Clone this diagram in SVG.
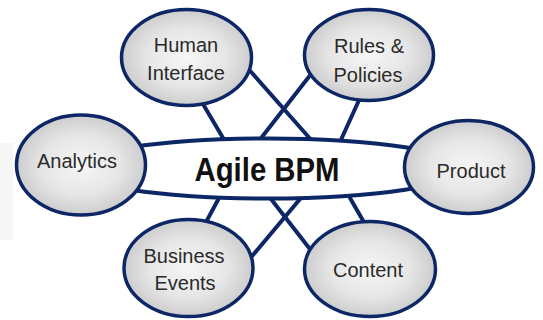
<svg xmlns="http://www.w3.org/2000/svg" width="543" height="320" viewBox="0 0 543 320">
  <defs>
    <radialGradient id="bubble" cx="50%" cy="50%" r="50%">
      <stop offset="0" stop-color="#f6f6f6"/>
      <stop offset="0.6" stop-color="#e6e6e6"/>
      <stop offset="1" stop-color="#cdcdcd"/>
    </radialGradient>
  </defs>
  <style>
    .node ellipse { fill: url(#bubble); stroke: #0c2666; stroke-width: 3.5; }
    .hub ellipse { fill: #ffffff; stroke: #0c2666; stroke-width: 4; }
    .links line { stroke: #0c2666; stroke-width: 4; stroke-linecap: round; }
    text { font-family: "Liberation Sans", Arial, sans-serif; fill: #2a2a2a; text-anchor: middle; }
    .label { font-size: 20px; }
    .title { font-size: 33px; font-weight: bold; fill: #111111; }
  </style>

  <rect x="0" y="143" width="13" height="97" fill="#f6f6f6"/>

  <g id="connectors" class="links">
    <line x1="200" y1="99" x2="226" y2="143"/>
    <line x1="245" y1="65" x2="313" y2="142"/>
    <line x1="315" y1="69" x2="258" y2="142"/>
    <line x1="360" y1="98" x2="340" y2="142"/>
    <line x1="219" y1="198" x2="205" y2="224"/>
    <line x1="300" y1="199" x2="248" y2="261"/>
    <line x1="271" y1="199" x2="313" y2="253"/>
    <line x1="350" y1="198" x2="365" y2="224"/>
  </g>

  <g id="agile-bpm" class="hub">
    <ellipse cx="268" cy="168.5" rx="194" ry="30"/>
    <text class="title" x="267" y="181" textLength="145" lengthAdjust="spacingAndGlyphs">Agile BPM</text>
  </g>

  <g id="human-interface" class="node">
    <ellipse cx="186.5" cy="57.5" rx="65" ry="48"/>
    <text class="label" x="186" y="52">Human</text>
    <text class="label" x="186" y="80">Interface</text>
  </g>

  <g id="rules-policies" class="node">
    <ellipse cx="369" cy="55" rx="64.5" ry="45.5"/>
    <text class="label" x="369" y="53">Rules &amp;</text>
    <text class="label" x="368" y="82">Policies</text>
  </g>

  <g id="analytics" class="node">
    <ellipse cx="81" cy="165" rx="64.5" ry="50"/>
    <text class="label" x="77" y="168">Analytics</text>
  </g>

  <g id="product" class="node">
    <ellipse cx="469" cy="167" rx="64.5" ry="46.5"/>
    <text class="label" x="471" y="178">Product</text>
  </g>

  <g id="business-events" class="node">
    <ellipse cx="188.5" cy="268" rx="64.5" ry="48.5"/>
    <text class="label" x="184" y="263">Business</text>
    <text class="label" x="185" y="290">Events</text>
  </g>

  <g id="content" class="node">
    <ellipse cx="370" cy="269" rx="65.5" ry="47.5"/>
    <text class="label" x="368" y="277">Content</text>
  </g>
</svg>
